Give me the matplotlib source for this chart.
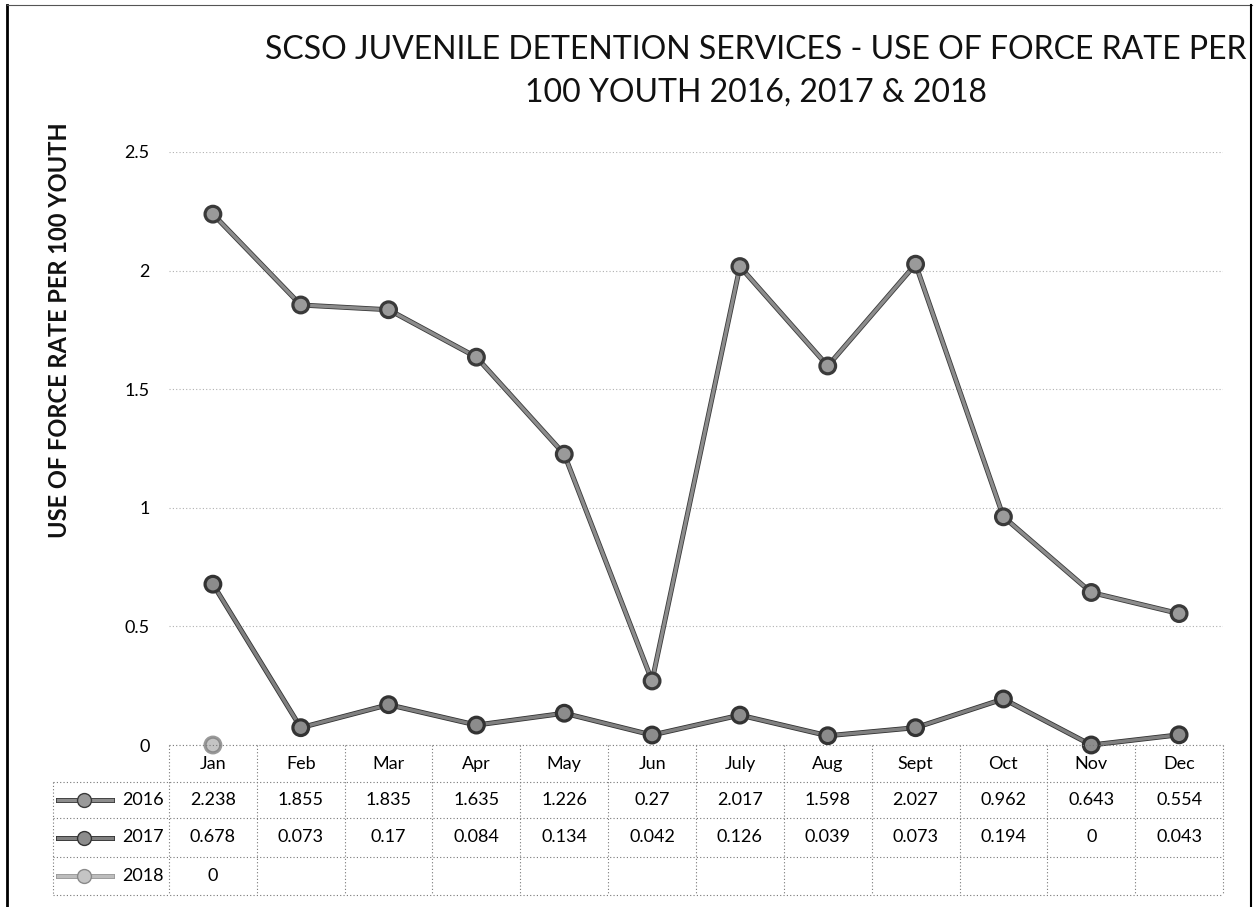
import numpy as np
import matplotlib.pyplot as plt
from matplotlib.lines import Line2D
import matplotlib.patheffects as pe

plt.rcParams['font.family'] = ['Lato', 'DejaVu Sans']

months = ['Jan', 'Feb', 'Mar', 'Apr', 'May', 'Jun', 'July', 'Aug', 'Sept', 'Oct', 'Nov', 'Dec']
rate_2016 = [2.238, 1.855, 1.835, 1.635, 1.226, 0.27, 2.017, 1.598, 2.027, 0.962, 0.643, 0.554]
rate_2017 = [0.678, 0.073, 0.17, 0.084, 0.134, 0.042, 0.126, 0.039, 0.073, 0.194, 0, 0.043]
rate_2018 = [0]
years = ['2016', '2017', '2018']
series = [rate_2016, rate_2017, rate_2018]
styles = [dict(color='#8c8c8c', mec='#3a3a3a', mfc='#9a9a9a', edge='#3a3a3a'),
          dict(color='#808080', mec='#333333', mfc='#8c8c8c', edge='#333333'),
          dict(color='#bdbdbd', mec='#8a8a8a', mfc='#c4c4c4', edge='#9a9a9a')]

W, H = 1254, 907
fig = plt.figure(figsize=(W / 100, H / 100), dpi=100)
x0, x1, ytop, ybot = 169, 1223, 152, 745
ax = fig.add_axes([x0 / W, 1 - ybot / H, (x1 - x0) / W, (ybot - ytop) / H])

x = np.arange(len(months))
for vals, st in zip(series, styles):
    ax.plot(x[:len(vals)], vals, marker='o', ms=10, lw=2.4, color=st['color'],
            mec=st['mec'], mfc=st['mfc'], mew=1, zorder=3, clip_on=False,
            path_effects=[pe.Stroke(linewidth=3.6, foreground=st['edge']), pe.Normal()])

ax.set_xlim(-0.5, 11.5)
ax.set_ylim(0, 2.5)
ax.set_yticks([0, 0.5, 1, 1.5, 2, 2.5])
ax.set_yticklabels(['0', '0.5', '1', '1.5', '2', '2.5'], fontsize=13)
ax.tick_params(axis='y', length=0, pad=14)
ax.set_xticks([])
ax.grid(axis='y', color='#b0b0b0', ls=(0, (1, 2)), lw=0.8)
for s in ax.spines.values():
    s.set_visible(False)

fig.text(60 / W, 1 - 330 / H, 'USE OF FORCE RATE PER 100 YOUTH', rotation=90,
         ha='center', va='center', fontsize=17, fontweight='bold', color='#111111')
fig.text(756 / W, 1 - 50 / H, 'SCSO JUVENILE DETENTION SERVICES - USE OF FORCE RATE PER',
         ha='center', va='center', fontsize=23, color='#111111')
fig.text(756 / W, 1 - 93 / H, '100 YOUTH 2016, 2017 & 2018',
         ha='center', va='center', fontsize=23, color='#111111')

# data table under the plot
fy = lambda y: 1 - y / H
fx = lambda xp: xp / W
colw = (x1 - x0) / 12
dot = dict(color='#777777', lw=0.8, ls=(0, (1, 2)))
rows_y = [745, 782, 818, 857, 895]
fig.add_artist(Line2D([fx(x0), fx(x1)], [fy(rows_y[0]), fy(rows_y[0])], **dot))
for yy in rows_y[1:]:
    fig.add_artist(Line2D([fx(53), fx(x1)], [fy(yy), fy(yy)], **dot))
for i in range(13):
    xx = x0 + i * colw
    fig.add_artist(Line2D([fx(xx), fx(xx)], [fy(rows_y[0]), fy(rows_y[-1])], **dot))
fig.add_artist(Line2D([fx(53), fx(53)], [fy(rows_y[1]), fy(rows_y[-1])], **dot))

for i, m in enumerate(months):
    fig.text(fx(x0 + (i + 0.5) * colw), fy(764), m, ha='center', va='center', fontsize=13)
for r, (yr, vals, st) in enumerate(zip(years, series, styles)):
    yc = (rows_y[r + 1] + rows_y[r + 2]) / 2
    fig.add_artist(Line2D([fx(58), fx(112)], [fy(yc), fy(yc)], lw=2.4, color=st['color'],
                          path_effects=[pe.Stroke(linewidth=3.6, foreground=st['edge']), pe.Normal()]))
    fig.add_artist(Line2D([fx(84)], [fy(yc)], marker='o', ms=10, mec=st['mec'], mfc=st['mfc'], lw=0))
    fig.text(fx(164), fy(yc), yr, ha='right', va='center', fontsize=13)
    for i, v in enumerate(vals):
        fig.text(fx(x0 + (i + 0.5) * colw), fy(yc), f'{v:g}', ha='center', va='center', fontsize=13)

# frame of the scanned page
fig.add_artist(Line2D([fx(7), fx(7)], [fy(5), 0], color='black', lw=2))
fig.add_artist(Line2D([fx(7), fx(1252)], [fy(5), fy(5)], color='#555555', lw=0.8))
fig.add_artist(Line2D([fx(1251), fx(1251)], [fy(5), 0], color='black', lw=1.5))

fig.savefig('out.png', dpi=100)
